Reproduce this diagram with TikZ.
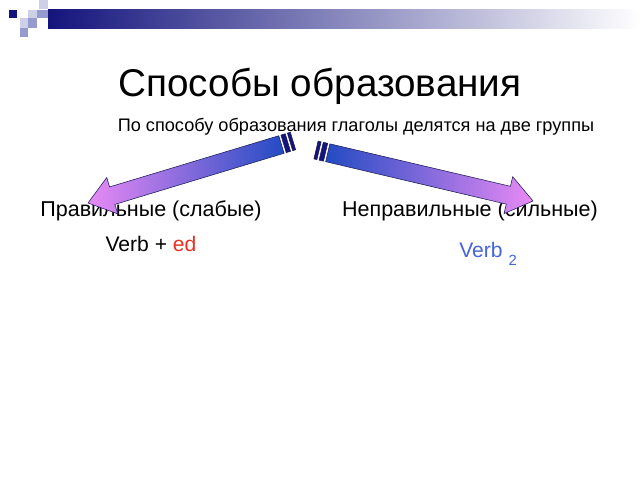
\documentclass[tikz,border=0pt]{standalone}
\usepackage{fontspec}
\setmainfont{Liberation Sans}
\usepackage{xcolor}
\definecolor{slide-navy}{RGB}{20,20,125}
\definecolor{slide-mid}{RGB}{150,155,205}
\definecolor{slide-light}{RGB}{205,208,230}
\definecolor{arrow-tail}{RGB}{35,75,195}
\definecolor{arrow-tip}{RGB}{232,138,245}
\definecolor{arrow-edge}{RGB}{30,30,90}
\definecolor{rule-red}{RGB}{230,50,35}
\definecolor{rule-blue}{RGB}{70,100,220}
\usepackage{tikz}
\usetikzlibrary{calc}

\tikzset{
    titletext/.style={font=\fontsize{27.5}{33}\selectfont},
    introtext/.style={font=\fontsize{12.9}{16}\selectfont},
    grouptext/.style={font=\fontsize{15.3}{19}\selectfont},
    ruletext/.style={font=\fontsize{15}{18}\selectfont},
    arrowstripe/.style={fill=slide-navy, draw=arrow-edge, line width=0.4pt},
    arrowbody/.style={draw=arrow-edge, line width=0.4pt},
    goesleft/.style={arrowbody, left color=arrow-tip, right color=arrow-tail},
    goesright/.style={arrowbody, left color=arrow-tail, right color=arrow-tip}
}

% striped block arrow from tail #1 to tip #2, shading style #3
\newcommand{\stripedarrow}[3]{%
    \path let \p1=($(#2)-(#1)$) in \pgfextra{%
        \pgfmathsetmacro\tmpang{atan2(\y1,\x1)}\xdef\arrang{\tmpang}%
        \pgfmathsetmacro\tmplen{veclen(\x1,\y1)}\xdef\arrlen{\tmplen}};
    \begin{scope}[shift={(#1)}, rotate=\arrang, x=1pt, y=1pt]
        \filldraw[arrowstripe] (0,-6.5) rectangle (2.2,6.5);
        \filldraw[arrowstripe] (3.8,-6.5) rectangle (7,6.5);
        \shade[#3] (8.6,-6.5) -- (\arrlen-18,-6.5) -- (\arrlen-18,-13.5)
            -- (\arrlen,0) -- (\arrlen-18,13.5) -- (\arrlen-18,6.5) -- (8.6,6.5) -- cycle;
    \end{scope}}

\begin{document}
\begin{tikzpicture}[
    x=0.025cm, y=-0.025cm,
    every node/.style={inner sep=0pt}
]
\useasboundingbox[fill=white] (0,0) rectangle (640,480);

% Header bar and squares
\shade[left color=slide-navy, right color=white] (48,9) rectangle (640,28);
\fill[slide-navy] (9,10) rectangle (17,18);
\fill[slide-light] (39,0) rectangle (48,9);
\fill[slide-light] (28,10) rectangle (37,18);
\fill[slide-mid] (37,10) rectangle (48,18);
\fill[slide-light] (20,18) rectangle (28,28);
\fill[slide-mid] (28,18) rectangle (37,28);
\fill[slide-mid] (20,28) rectangle (28,37);

% Title and lead line
\node[titletext, anchor=base] (title) at (320,96) {Способы образования};
\node[introtext, anchor=base] (intro) at (356,131) {По способу образования глаголы делятся на две группы};

% Two groups
\node[grouptext, anchor=base] (weak) at (151,216) {Правильные (слабые)};
\node[grouptext, anchor=base] (strong) at (470,216) {Неправильные (сильные)};
\node[ruletext, anchor=base] (weakrule) at (151,251) {Verb + \textcolor{rule-red}{ed}};
\node[ruletext, text=rule-blue, anchor=base west] (strongrule) at (459,257)
    {Verb \raisebox{-0.4em}{\fontsize{10.5}{12}\selectfont 2}};

% Arrows
\coordinate (weaktail) at (293,141);
\coordinate (weaktip) at (88,203);
\coordinate (strongtail) at (316,150);
\coordinate (strongtip) at (533,201);
\stripedarrow{weaktail}{weaktip}{goesleft}
\stripedarrow{strongtail}{strongtip}{goesright}

\end{tikzpicture}
\end{document}
